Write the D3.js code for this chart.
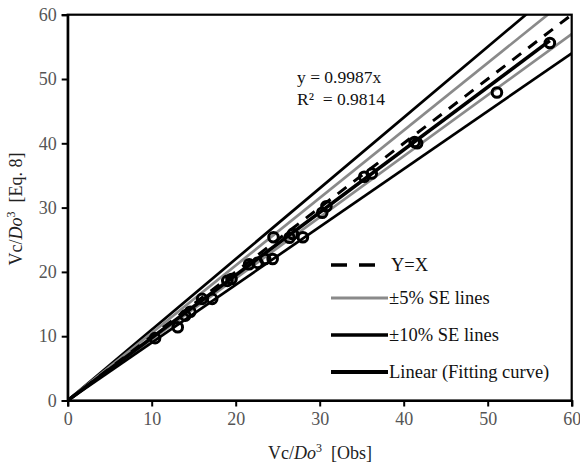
<!DOCTYPE html>
<html><head><meta charset="utf-8">
<script src="https://cdn.jsdelivr.net/npm/d3@7"></script>
<style>body{margin:0;background:#fff}svg{display:block}text{font-family:"Liberation Serif","Times New Roman",serif}</style>
</head><body><svg id="c" width="580" height="468"></svg>
<script>
const obsX = [10.4,13.1,14.0,14.6,16.0,17.2,19.0,19.5,21.6,22.6,23.5,24.4,24.5,26.4,26.8,28.0,30.3,30.8,35.3,36.2,41.3,41.6,51.1,57.4];
const eqY  = [9.7,11.4,13.2,13.8,15.8,15.8,18.6,18.9,21.2,21.4,22.0,22.0,25.4,25.3,25.9,25.4,29.2,30.2,34.8,35.3,40.2,40.0,47.9,55.6];
const seSlopes = [1.10, 1.05, 0.95, 0.90];
const seKinds  = ["ten","five","five","ten"];
const fitSlope = 0.975;
const fitRange = [0, 57.4];
const xTicks = [0,10,20,30,40,50,60];
const yTicks = [0,10,20,30,40,50,60];
const legendLabels = ["Y=X","±5% SE lines","±10% SE lines","Linear (Fitting curve)"];
const eqText = ["y = 0.9987x","R\u00B2\u00A0\u00A0= 0.9814"];

const svg = d3.select("#c");
const L=67.7,R=571.7,T=14.7,B=400.5;
const x = d3.scaleLinear().domain([0,60]).range([L,R]);
const y = d3.scaleLinear().domain([0,60]).range([B,T]);

svg.append("clipPath").attr("id","clip").append("rect").attr("x",L).attr("y",T).attr("width",R-L).attr("height",B-T);
const g = svg.append("g").attr("clip-path","url(#clip)");
const line = d3.line().x(d=>x(d[0])).y(d=>y(d[1]));

seSlopes.forEach((s,i)=>{
  g.append("path").attr("d",line([[0,0],[60,60*s]])).attr("fill","none")
   .attr("stroke", seKinds[i]==="five" ? "#8a8a8a" : "#000").attr("stroke-width",2.7);
});
g.append("path").attr("d",line([[0,0],[60,60]])).attr("fill","none").attr("stroke","#000")
 .attr("stroke-width",3).attr("stroke-dasharray","11,9");
g.append("path").attr("d",line(fitRange.map(v=>[v,v*fitSlope]))).attr("fill","none").attr("stroke","#000").attr("stroke-width",3.6);

g.selectAll("circle.pt").data(obsX.map((v,i)=>[v,eqY[i]])).join("circle").attr("class","pt")
 .attr("cx",d=>x(d[0])).attr("cy",d=>y(d[1])).attr("r",4.8)
 .attr("fill","none").attr("stroke","#000").attr("stroke-width",3);

// frame
svg.append("rect").attr("x",L).attr("y",T).attr("width",R-L).attr("height",B-T).attr("fill","none").attr("stroke","#000").attr("stroke-width",2.2);

const xa = svg.append("g").attr("transform",`translate(0,${B})`).call(d3.axisBottom(x).tickValues(xTicks).tickSize(6).tickPadding(6));
const ya = svg.append("g").attr("transform",`translate(${L},0)`).call(d3.axisLeft(y).tickValues(yTicks).tickSize(6).tickPadding(5));
[xa,ya].forEach(a=>{
  a.select(".domain").attr("stroke","#000").attr("stroke-width",2.2);
  a.selectAll(".tick line").attr("stroke","#000").attr("stroke-width",2);
  a.selectAll(".tick text").attr("fill","#555").attr("font-size",18).attr("font-family","'Liberation Serif',serif");
});

// axis titles
function title(sel, tail){
  sel.append("tspan").text("Vc/");
  sel.append("tspan").attr("font-style","italic").text("Do");
  sel.append("tspan").attr("dy",-7).attr("font-size",12).text("3");
  sel.append("tspan").attr("dy",7).text("\u00A0\u00A0" + tail);
}
title(svg.append("text").attr("x",320).attr("y",459).attr("text-anchor","middle").attr("font-size",18).attr("fill","#222"), "[Obs]");
title(svg.append("text").attr("transform","translate(22,209) rotate(-90)").attr("text-anchor","middle").attr("font-size",18).attr("fill","#222"), "[Eq. 8]");

// equation
eqText.forEach((t,i)=>svg.append("text").attr("x",297).attr("y",83+i*22).attr("font-size",17.5).attr("fill","#111").text(t));

// legend
const legY = [265,298,335,372];
legendLabels.forEach((t,i)=>{
  const ly = legY[i];
  const ln = svg.append("line").attr("x1",331).attr("x2",388).attr("y1",ly).attr("y2",ly).attr("stroke-width",3.2);
  if(i===0){ln.attr("x2",375).attr("stroke","#000").attr("stroke-dasharray","16,12").attr("stroke-width",3.6);}
  else if(i===1){ln.attr("stroke","#8a8a8a");}
  else {ln.attr("stroke","#000").attr("stroke-width",i===3?4:3.6);}
  svg.append("text").attr("x", i===0?391:389).attr("y",ly+6).attr("font-size",18.5).attr("fill","#111").text(t);
});
</script></body></html>
